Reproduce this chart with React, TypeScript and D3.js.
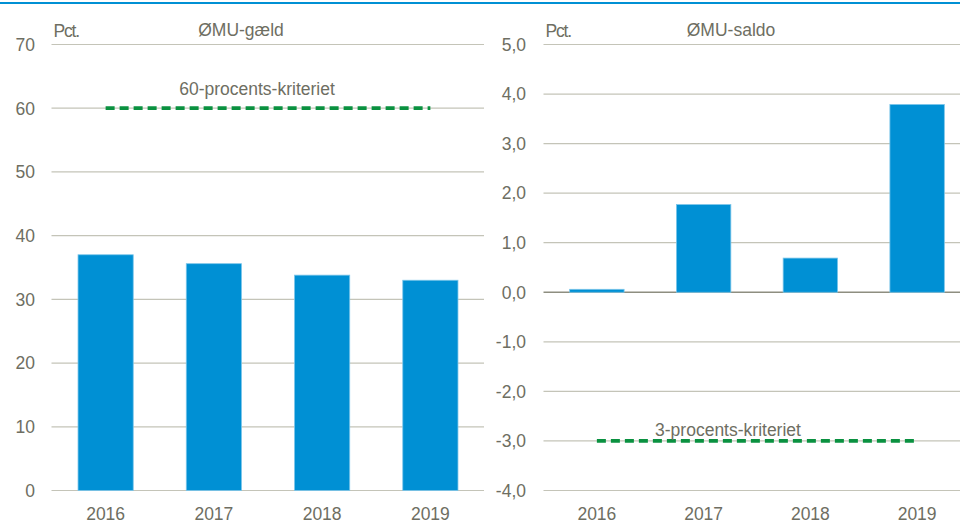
import * as d3 from 'd3';
import { useEffect, useRef } from 'react';

const years = ['2016', '2017', '2018', '2019'];
const debtValues = [37.0, 35.6, 33.8, 33.0];
const balanceValues = [0.06, 1.77, 0.69, 3.79];
const debtTicks = [0, 10, 20, 30, 40, 50, 60, 70];
const balanceTicks = [-4, -3, -2, -1, 0, 1, 2, 3, 4, 5];
const debtCriterion = 60;
const balanceCriterion = -3;

const W = 960;
const H = 525;
const textColor = '#6e6e62';
const gridColor = '#c4c4b8';
const barColor = '#0090d4';
const greenColor = '#0a9140';
const font = "'Liberation Sans', Arial, sans-serif";
const fontSize = 17.5;

function App() {
  const svgElement = useRef<SVGSVGElement | null>(null);

  useEffect(() => {
    const svg = d3.select(svgElement.current);
    svg.selectAll('*').remove();

    // blue rule along the top
    svg
      .append('line')
      .attr('x1', 0)
      .attr('x2', W)
      .attr('y1', 3)
      .attr('y2', 3)
      .attr('stroke', barColor)
      .attr('stroke-width', 2);

    const drawPanel = (opts: {
      x0: number;
      x1: number;
      gridX1: number;
      labelX: number;
      values: number[];
      ticks: number[];
      domain: [number, number];
      fmt: (v: number) => string;
      title: string;
      titleX: number;
      criterion: number;
      criterionLabel: string;
      criterionLabelDx: number;
      criterionLabelDy: number;
    }) => {
      const g = svg.append('g');
      const x = d3
        .scaleBand<string>()
        .domain(years)
        .range([opts.x0, opts.x1])
        .paddingInner(0.49)
        .paddingOuter(0.245);
      const y = d3.scaleLinear().domain(opts.domain).range([490.5, 44.5]);

      // gridlines
      g.selectAll('.grid')
        .data(opts.ticks)
        .join('line')
        .attr('x1', opts.x0)
        .attr('x2', opts.gridX1)
        .attr('y1', (d) => y(d))
        .attr('y2', (d) => y(d))
        .attr('stroke', (d) => (d === 0 && opts.domain[0] < 0 ? '#8e8e80' : gridColor))
        .attr('stroke-width', (d) => (d === 0 && opts.domain[0] < 0 ? 1.5 : 1.2));

      // y tick labels
      g.selectAll('.ylab')
        .data(opts.ticks)
        .join('text')
        .attr('x', opts.labelX)
        .attr('y', (d) => y(d))
        .attr('dy', '0.36em')
        .attr('text-anchor', 'end')
        .attr('font-family', font)
        .attr('font-size', fontSize)
        .attr('fill', textColor)
        .text((d) => opts.fmt(d));

      // bars
      g.selectAll('.bar')
        .data(opts.values)
        .join('rect')
        .attr('x', (_, i) => x(years[i]) ?? 0)
        .attr('width', x.bandwidth())
        .attr('y', (d) => y(Math.max(d, 0)))
        .attr('height', (d) => Math.abs(y(d) - y(0)))
        .attr('fill', barColor)
        .attr('stroke', '#7cc6ea')
        .attr('stroke-width', 0.8);

      // year labels
      g.selectAll('.xlab')
        .data(years)
        .join('text')
        .attr('x', (d) => (x(d) ?? 0) + x.bandwidth() / 2)
        .attr('y', 520)
        .attr('text-anchor', 'middle')
        .attr('font-family', font)
        .attr('font-size', fontSize)
        .attr('fill', textColor)
        .text((d) => d);

      // dashed criterion line, first to last bar centre
      const cx0 = (x(years[0]) ?? 0) + x.bandwidth() / 2;
      const cx1 = (x(years[years.length - 1]) ?? 0) + x.bandwidth() / 2;
      g.append('line')
        .attr('x1', cx0)
        .attr('x2', cx1)
        .attr('y1', y(opts.criterion))
        .attr('y2', y(opts.criterion))
        .attr('stroke', greenColor)
        .attr('stroke-width', 3.8)
        .attr('stroke-dasharray', '9 5');

      g.append('text')
        .attr('x', (cx0 + cx1) / 2 + opts.criterionLabelDx)
        .attr('y', y(opts.criterion) + opts.criterionLabelDy)
        .attr('text-anchor', 'middle')
        .attr('font-family', font)
        .attr('font-size', fontSize)
        .attr('fill', textColor)
        .text(opts.criterionLabel);

      g.append('text')
        .attr('x', opts.x0 + 2)
        .attr('y', 37)
        .attr('font-family', font)
        .attr('font-size', fontSize)
        .attr('letter-spacing', -1.2)
        .attr('fill', textColor)
        .text('Pct.');

      g.append('text')
        .attr('x', opts.titleX)
        .attr('y', 36)
        .attr('text-anchor', 'middle')
        .attr('font-family', font)
        .attr('font-size', fontSize)
        .attr('fill', textColor)
        .text(opts.title);
    };

    drawPanel({
      x0: 51.5,
      x1: 484.5,
      gridX1: 484,
      labelX: 35,
      values: debtValues,
      ticks: debtTicks,
      domain: [0, 70],
      fmt: (v) => String(v),
      title: 'ØMU-gæld',
      titleX: 241,
      criterion: debtCriterion,
      criterionLabel: '60-procents-kriteriet',
      criterionLabelDx: -11,
      criterionLabelDy: -13,
    });

    drawPanel({
      x0: 543.5,
      x1: 970.5,
      gridX1: 960,
      labelX: 526,
      values: balanceValues,
      ticks: balanceTicks,
      domain: [-4, 5],
      fmt: (v) => d3.format('.1f')(v).replace('.', ',').replace('−', '-'),
      title: 'ØMU-saldo',
      titleX: 731,
      criterion: balanceCriterion,
      criterionLabel: '3-procents-kriteriet',
      criterionLabelDx: -29,
      criterionLabelDy: -5,
    });
  }, []);

  return (
    <svg
      ref={svgElement}
      width={W}
      height={H}
      style={{ position: 'absolute', left: 0, top: 0, background: '#fff' }}
    />
  );
}

export default App;
